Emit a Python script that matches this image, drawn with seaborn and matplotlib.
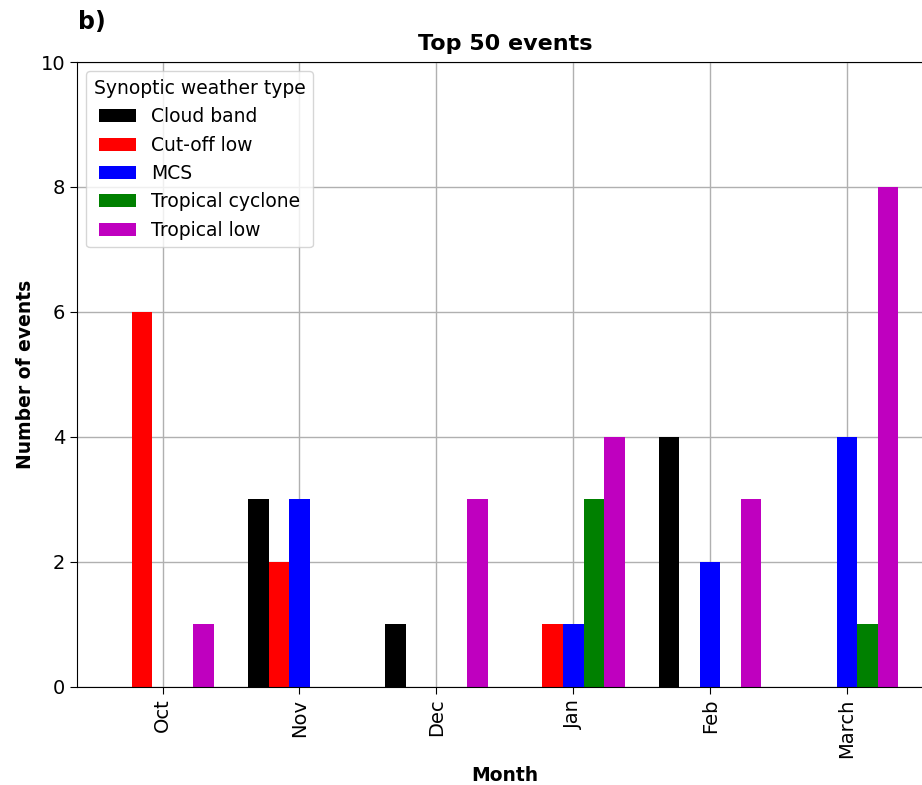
import matplotlib
matplotlib.use("Agg")
import matplotlib.pyplot as plt
import pandas as pd
import seaborn as sns

months = ['Oct', 'Nov', 'Dec', 'Jan', 'Feb', 'March']
types = ['Cloud band', 'Cut-off low', 'MCS', 'Tropical cyclone', 'Tropical low']
cloud_band = [0, 3, 1, 0, 4, 0]
cut_off_low = [6, 2, 0, 1, 0, 0]
mcs = [0, 3, 0, 1, 2, 4]
tropical_cyclone = [0, 0, 0, 3, 0, 1]
tropical_low = [1, 0, 3, 4, 3, 8]
colors = ['k', 'r', 'b', 'g', 'm']

counts = [cloud_band, cut_off_low, mcs, tropical_cyclone, tropical_low]
rows = []
for t, vals in zip(types, counts):
    for m, v in zip(months, vals):
        rows.append({'Month': m, 'Type': t, 'Count': v})
df = pd.DataFrame(rows)

plt.rcParams['font.family'] = ['DejaVu Sans']
fig = plt.figure(figsize=(9.22, 7.85), dpi=100)
ax = fig.add_axes([0.0835, 0.125, 0.928, 0.796])

sns.barplot(data=df, x='Month', y='Count', hue='Type', order=months,
            hue_order=types, palette=colors, width=0.75, gap=0,
            saturation=1, ax=ax, legend=True)

ax.set_xlim(-0.625, 5.625)
ax.set_ylim(0, 10)
ax.set_axisbelow(True)
ax.grid(True, color='#b0b0b0', linewidth=1)
ax.tick_params(axis='both', labelsize=14, length=5)
ax.tick_params(axis='x', labelrotation=90)
ax.set_xlabel('Month', fontsize=13.5, fontweight='bold', labelpad=6)
ax.set_ylabel('Number of events', fontsize=13.5, fontweight='bold')
ax.set_title('Top 50 events', fontsize=16, fontweight='bold', pad=9)
ax.legend(title='Synoptic weather type', loc='upper left', fontsize=13.5,
          title_fontsize=13.5)
fig.text(0.085, 0.972, 'b)', fontsize=17, fontweight='bold', va='center')

fig.savefig('out.png', dpi=100)
